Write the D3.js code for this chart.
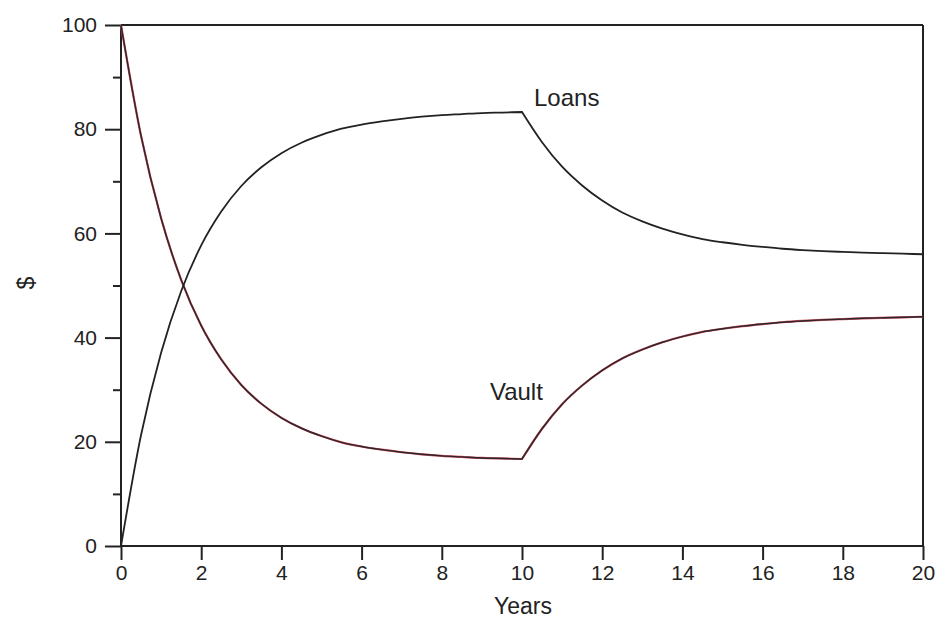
<!DOCTYPE html>
<html>
<head>
<meta charset="utf-8">
<script src="https://cdn.jsdelivr.net/npm/d3@7"></script>
<style>
  html, body { margin: 0; padding: 0; background: #fff; }
  svg { display: block; }
  text { font-family: "Liberation Sans", Arial, Helvetica, sans-serif; fill: #222; }
</style>
</head>
<body>
<svg id="chart" width="940" height="623"></svg>
<script>
// ---- data ----
const years = [0, 0.5, 1, 1.5, 2, 2.5, 3, 3.5, 4, 4.5, 5, 5.5, 6, 6.5, 7, 7.5, 8, 8.5, 9, 9.5, 10,
               10.5, 11, 11.5, 12, 12.5, 13, 13.5, 14, 14.5, 15, 15.5, 16, 16.5, 17, 17.5, 18, 18.5, 19, 19.5, 20];
const loans = [0, 21.3, 37.1, 48.9, 57.7, 64.2, 69.1, 72.7, 75.4, 77.4, 78.9, 80.1, 80.9, 81.5, 82.0, 82.4, 82.7, 82.9, 83.1, 83.2, 83.3,
               77.5, 72.8, 69.2, 66.3, 64.0, 62.3, 60.9, 59.8, 58.9, 58.3, 57.8, 57.4, 57.05, 56.8, 56.6, 56.45, 56.3, 56.2, 56.1, 56.0];
const vault = [100, 78.7, 62.9, 51.1, 42.3, 35.8, 30.9, 27.3, 24.6, 22.6, 21.1, 19.9, 19.1, 18.5, 18.0, 17.6, 17.3, 17.1, 16.9, 16.8, 16.7,
               22.5, 27.2, 30.8, 33.7, 36.0, 37.7, 39.1, 40.2, 41.1, 41.7, 42.2, 42.6, 42.95, 43.2, 43.4, 43.55, 43.7, 43.8, 43.9, 44.0];
const policyChangeYear = 10;
const xTicks = [0, 2, 4, 6, 8, 10, 12, 14, 16, 18, 20];
const yTicks = [0, 20, 40, 60, 80, 100];
const yMinorTicks = [10, 30, 50, 70, 90];
const xLabel = "Years";
const yLabel = "$";
const seriesLabels = [
  {name: "Loans", t: 10.3, v: 84.4},
  {name: "Vault", t: 9.2, v: 28.1}
];

// ---- layout ----
const svg = d3.select("#chart");
const x = d3.scaleLinear().domain([0, 20]).range([121, 923]);
const y = d3.scaleLinear().domain([0, 100]).range([546, 25]);

const axisColor = "#222";

// frame top and right
svg.append("line").attr("x1", x(0)).attr("x2", x(20)).attr("y1", y(100)).attr("y2", y(100))
  .attr("stroke", axisColor).attr("stroke-width", 2);
svg.append("line").attr("x1", x(20)).attr("x2", x(20)).attr("y1", y(100)).attr("y2", y(0))
  .attr("stroke", axisColor).attr("stroke-width", 2);

// x axis
const xAxis = svg.append("g").attr("transform", `translate(0,${y(0)})`)
  .call(d3.axisBottom(x).tickValues(xTicks).tickSize(14).tickPadding(5).tickFormat(d3.format("d")));
// y axis
const yAxis = svg.append("g").attr("transform", `translate(${x(0)},0)`)
  .call(d3.axisLeft(y).tickValues(yTicks).tickSize(16).tickPadding(8).tickFormat(d3.format("d")));
const yMinor = svg.append("g").attr("transform", `translate(${x(0)},0)`)
  .call(d3.axisLeft(y).tickValues(yMinorTicks).tickSize(8).tickFormat(""));
yMinor.select(".domain").remove();

[xAxis, yAxis, yMinor].forEach(g => {
  g.selectAll(".domain").attr("stroke", axisColor).attr("stroke-width", 2);
  g.selectAll(".tick line").attr("stroke", axisColor).attr("stroke-width", 2);
  g.selectAll(".tick text").attr("font-size", 21).attr("fill", "#222")
    .style("font-family", "'Liberation Sans', Arial, sans-serif");
});
xAxis.select(".domain").attr("d", `M${x(0)},0H${x(20)}`);
yAxis.select(".domain").attr("d", `M0,${y(0)}V${y(100)}`);

// lines: two smooth phases joined with a sharp corner at the policy change
const lineGen = d3.line().x(d => x(d[0])).y(d => y(d[1])).curve(d3.curveMonotoneX);
const phasePaths = vals => {
  const pts = years.map((t, i) => [t, vals[i]]);
  const a = pts.filter(p => p[0] <= policyChangeYear);
  const b = pts.filter(p => p[0] >= policyChangeYear);
  return lineGen(a) + lineGen(b).replace(/^M/, "L");
};

// vault: thin red under dark
svg.append("path").attr("d", phasePaths(vault)).attr("fill", "none")
  .attr("stroke", "#c84a5c").attr("stroke-width", 2.2).attr("stroke-linejoin", "miter");
svg.append("path").attr("d", phasePaths(vault)).attr("fill", "none")
  .attr("stroke", "#2e2628").attr("stroke-width", 1.4).attr("stroke-linejoin", "miter");
// loans
svg.append("path").attr("d", phasePaths(loans)).attr("fill", "none")
  .attr("stroke", "#222").attr("stroke-width", 1.8).attr("stroke-linejoin", "miter");

// series labels
svg.selectAll("text.series").data(seriesLabels).enter().append("text")
  .attr("class", "series")
  .attr("x", d => x(d.t)).attr("y", d => y(d.v))
  .attr("font-size", 24)
  .text(d => d.name);

// axis titles
svg.append("text").attr("x", 523).attr("y", 614).attr("text-anchor", "middle")
  .attr("font-size", 23).text(xLabel);
svg.append("text").attr("transform", "translate(34,283) rotate(-90)")
  .attr("text-anchor", "middle").attr("font-size", 23).text(yLabel);
</script>
</body>
</html>
